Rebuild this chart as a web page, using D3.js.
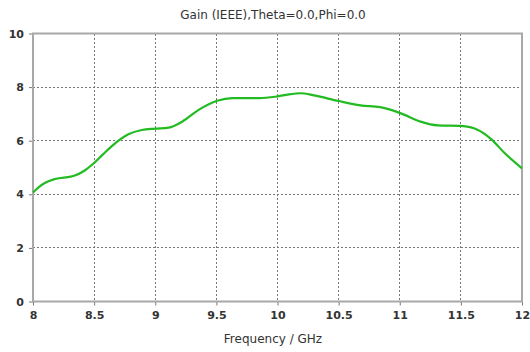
<!DOCTYPE html>
<html><head><meta charset="utf-8">
<script src="https://cdn.jsdelivr.net/npm/d3@7"></script>
<style>body{margin:0;background:#fff;} svg{display:block;}</style>
</head><body>
<svg id="chart" width="530" height="352"></svg>
<script>
const freq = [8.0, 8.05, 8.10, 8.18, 8.33, 8.42, 8.49, 8.57, 8.645, 8.78, 8.89, 9.0, 9.11, 9.22, 9.355, 9.506, 9.63, 9.75, 9.85, 9.98, 10.08, 10.19, 10.30, 10.50, 10.68, 10.84, 11.01, 11.17, 11.31, 11.50, 11.64, 11.75, 11.855, 12.0];
const gain = [4.07, 4.28, 4.43, 4.57, 4.68, 4.88, 5.13, 5.48, 5.80, 6.24, 6.40, 6.45, 6.49, 6.71, 7.15, 7.49, 7.59, 7.59, 7.59, 7.64, 7.72, 7.77, 7.69, 7.48, 7.32, 7.25, 7.02, 6.71, 6.57, 6.55, 6.40, 6.05, 5.55, 4.97];
const xTicks = [8, 8.5, 9, 9.5, 10, 10.5, 11, 11.5, 12];
const yTicks = [0, 2, 4, 6, 8, 10];
const title = "Gain (IEEE),Theta=0.0,Phi=0.0";
const xLabel = "Frequency / GHz";

const svg = d3.select("#chart");
const L = 33, R = 522, T = 33.5, B = 301.5;
const x = d3.scaleLinear().domain([8, 12]).range([L, R]);
const y = d3.scaleLinear().domain([0, 10]).range([B, T]);
const font = "Tahoma, 'DejaVu Sans', Verdana, sans-serif";

// grid
svg.append("g").selectAll("line").data(xTicks.slice(1, -1)).join("line")
  .attr("x1", d => x(d)).attr("x2", d => x(d)).attr("y1", T).attr("y2", B)
  .attr("stroke", "#777").attr("stroke-width", 1).attr("stroke-dasharray", "2,2")
  .attr("shape-rendering", "crispEdges");
svg.append("g").selectAll("line").data(yTicks.slice(1, -1)).join("line")
  .attr("y1", d => y(d)).attr("y2", d => y(d)).attr("x1", L).attr("x2", R)
  .attr("stroke", "#777").attr("stroke-width", 1).attr("stroke-dasharray", "2,2")
  .attr("shape-rendering", "crispEdges");

// axes
const xAxis = d3.axisBottom(x).tickValues(xTicks).tickSize(4).tickPadding(6)
  .tickFormat(d => String(d));
const yAxis = d3.axisLeft(y).tickValues(yTicks).tickSize(4).tickPadding(5)
  .tickFormat(d => String(d));
const gx = svg.append("g").attr("transform", `translate(0,${B})`).call(xAxis);
const gy = svg.append("g").attr("transform", `translate(${L},0)`).call(yAxis);
[gx, gy].forEach(g => {
  g.select(".domain").remove();
  g.selectAll(".tick line").attr("stroke", "#777");
  g.selectAll(".tick text").attr("fill", "#333").style("font-family", font)
    .style("font-size", "11px").style("font-weight", "bold");
});

// frame
svg.append("rect").attr("x", L).attr("y", T).attr("width", R - L).attr("height", B - T)
  .attr("fill", "none").attr("stroke", "#a8a8a8").attr("stroke-width", 2);

// curve
const line = d3.line().x((d, i) => x(freq[i])).y(d => y(d)).curve(d3.curveMonotoneX);
svg.append("path").datum(gain).attr("d", line)
  .attr("fill", "none").attr("stroke", "#22bb22").attr("stroke-width", 2.2);

// title & label
svg.append("text").attr("x", 273).attr("y", 19).attr("text-anchor", "middle")
  .attr("fill", "#333").style("font-family", font).style("font-size", "12px").text(title);
svg.append("text").attr("x", 273).attr("y", 343).attr("text-anchor", "middle")
  .attr("fill", "#333").style("font-family", font).style("font-size", "12px").text(xLabel);
</script>
</body></html>
